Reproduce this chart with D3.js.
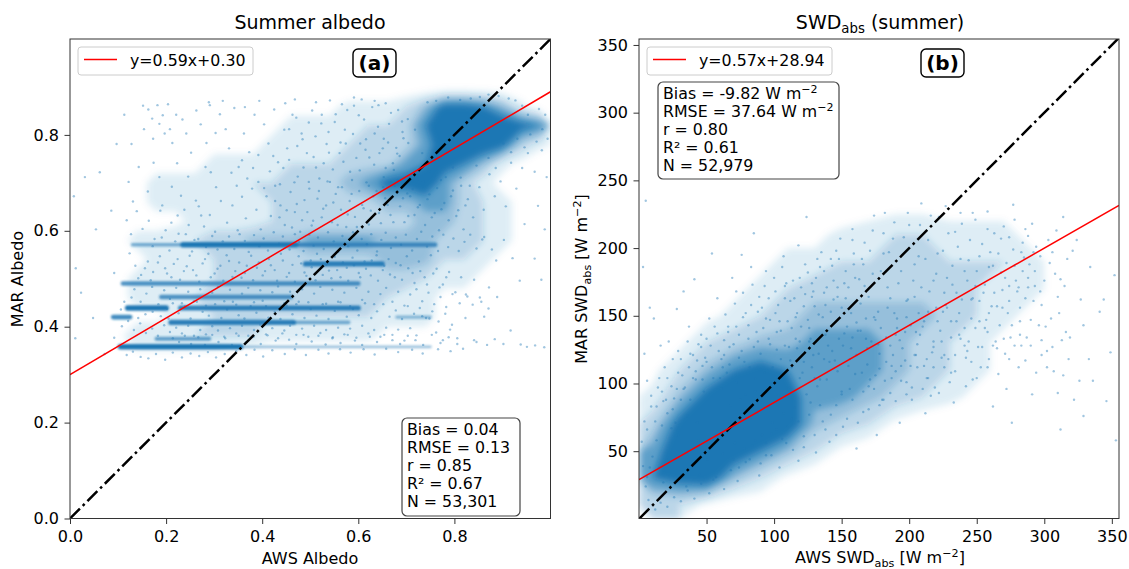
<!DOCTYPE html>
<html><head><meta charset="utf-8">
<script src="https://cdn.jsdelivr.net/npm/d3@7/dist/d3.min.js"></script>
<style>
html,body{margin:0;padding:0;background:#fff}
svg{display:block}
text{font-family:"DejaVu Sans",sans-serif;fill:#000}
</style></head><body>
<svg id="c" width="1129" height="569">
<defs><filter id="soft" x="-5%" y="-5%" width="110%" height="110%"><feGaussianBlur stdDeviation="3.5"/></filter>
<filter id="softB" x="-5%" y="-200%" width="110%" height="500%"><feGaussianBlur stdDeviation="0.9"/></filter></defs>
</svg>
<script>
// The originals hold ~53,000 points each: they cannot be read one by one. The clouds are shown as
// estimated coverage grids (digit 0-9 per cell, read by eye), estimated streaks, and a hand-read sample of points.
const aGridRows = [
"0000000000000000000000000","0000000000000000000000000","0000000000000000000000000",
"0001110111111122235887520","0011111111122223347999987","0011111111222233346999842",
"0011111222233344467875210","0011222233344456889642100","0011222222333344556643210",
"0011112222333333445543210","0012233445556666555443210","0011222333334444555332100",
"0012222333344444443221100","0012233444444443322111000","0111122333333333222110000",
"0013333333222222111111100","0001111100000000000000000","0000000000000000000000000",
"0000000000000000000000000","0000000000000000000000000","0000000000000000000000000",
"0000000000000000000000000","0000000000000000000000000","0000000000000000000000000","0000000000000000000000000"];
const bGridRows = [
"000000000000000000","000000000000000000","000000000000000000","000000000000000000","000000000000000000","000000000000000000",
"000000001111110000","000001122332221000","000112233333332100","001123444443322100","001234555554321000","013455666543210000",
"135787666543210000","258998665432100000","489999543100000000","699975310000000000","789531000000000000","331000000000000000"];
const bandY  =[.571,.571,.571,.531,.490,.462,.439,.439,.420,.420,.409,.409,.375,.358,.358];
const bandX0 =[.130,.235,.470,.490,.110,.190,.120,.230,.090,.680,.210,.465,.180,.105,.355];
const bandX1 =[.300,.470,.760,.650,.600,.460,.200,.600,.125,.750,.465,.580,.290,.355,.750];
const bandLvl=[.45,1,.7,.9,.7,.7,1,.9,.8,.3,.9,.45,.55,1,.25];
// per-mille x,y pairs (albedo)
const aPairs=[
8,672,31,712,62,722,12,522,54,603,23,471,11,376,48,418,92,512,86,642,97,781,
113,842,128,781,152,861,154,812,163,853,171,834,173,792,182,862,186,823,193,841,197,803,204,864,208,812,213,783,221,842,223,741,234,832,242,803,246,713,252,763,
122,702,143,733,131,661,162,682,174,742,186,712,192,653,212,692,224,632,231,673,263,851,272,822,284,783,291,862,293,722,304,691,262,663,273,632,282,733,303,804,
312,843,324,812,331,772,342,856,351,733,362,803,373,764,384,842,392,702,404,822,413,782,425,853,433,743,446,811,452,772,463,842,474,713,482,803,493,762,504,851,
512,732,523,824,534,781,541,702,553,843,561,762,572,811,583,723,591,861,604,782,612,832,623,753,634,803,642,862,651,772,664,823,672,741,683,852,694,793,703,833,
118,622,127,593,139,641,151,604,164,621,176,583,188,642,199,601,211,617,226,594,238,644,247,612,259,581,268,651,279,609,291,633,302,598,314,662,327,617,338,653,
349,601,358,671,366,626,379,688,388,644,397,603,409,672,418,631,427,694,438,653,447,612,459,681,468,639,479,598,488,664,497,702,506,621,518,683,527,646,536,703,
548,659,557,612,566,691,578,634,586,677,597,608,608,654,617,701,626,642,638,683,647,616,656,668,667,633,676,694,687,651,696,618,708,672,717,633,728,654,739,612,
748,676,759,637,768,601,779,658,788,622,797,684,808,643,819,603,828,666,839,628,852,691,861,644,873,718,884,672,896,703,907,651,918,742,929,688,941,731,953,762,
967,723,982,768,992,712,974,652,988,603,946,614,903,581,921,543,967,542,858,582,887,538,936,496,981,498,
124,553,136,527,148,508,162,536,173,514,187,547,198,522,211,503,224,541,237,516,249,548,263,507,276,532,288,552,301,511,313,527,326,549,338,504,352,534,364,512,
377,548,389,523,401,507,414,541,426,518,439,552,451,504,463,529,476,547,488,513,501,538,514,552,526,508,539,517,551,546,563,503,576,523,588,544,601,512,613,536,
626,507,638,549,651,518,663,541,676,503,688,528,701,547,713,512,726,536,738,503,751,549,763,521,776,488,789,514,802,472,814,503,827,463,841,498,856,452,872,482,
134,478,147,452,159,469,171,483,184,447,196,476,208,458,221,481,233,449,246,473,258,453,271,478,283,444,296,471,308,483,321,453,333,477,346,446,358,469,371,481,
383,451,396,476,408,443,421,472,433,484,446,449,458,473,471,447,483,478,496,451,508,469,521,483,533,448,546,477,558,452,571,471,583,443,596,481,608,456,621,473,
633,447,646,468,658,481,671,452,683,473,696,444,708,467,721,478,733,453,746,471,758,447,771,462,783,441,796,468,811,449,824,467,838,446,853,461,871,438,889,462,
108,401,121,412,133,393,146,407,158,387,171,396,183,381,196,403,208,389,221,398,233,386,246,402,258,381,271,393,283,384,296,401,308,392,321,379,333,397,346,386,
358,402,371,381,383,393,396,404,408,384,421,397,433,376,446,392,458,402,471,383,483,396,496,379,508,402,521,387,533,393,546,376,558,398,571,384,583,396,596,377,
608,402,621,386,633,393,646,379,658,398,671,383,683,394,696,371,708,397,721,382,733,422,748,417,762,388,776,372,791,394,806,376,823,418,841,372,862,421,884,374,
917,392,938,363,951,358,968,361,987,357,902,364,868,362,846,368,118,341,131,348,147,337,163,334,179,343,198,331,214,346,233,336,251,344,269,339,
287,347,304,336,322,343,346,349,367,341,384,352,402,338,421,351,447,343,468,353,491,341,517,352,538,344,562,353,584,346,611,353,634,342,658,354,683,347,712,352,
734,344,766,353,792,349,818,354,106,436,113,452,128,461,142,418,157,426,172,431,189,422,205,417,92,377,72,343,
704,783,718,811,733,762,686,756,657,731,668,702,702,678,725,702,748,724,772,706,797,732,813,711,832,694,846,736,871,752,886,731,902,782,918,764,
931,792,946,774,958,801,971,786,983,812,994,792,989,842,976,854,953,842,941,861,927,872,913,876,892,881,871,884,853,879,834,876,812,873,787,878,762,871,744,868,
607,874,634,871,657,866,591,878,566,864,541,872,512,868,468,874,448,866,394,871,364,858,318,871,289,868,
// second reading: the mid-density cloud
336,721,347,694,358,747,369,709,381,731,392,758,404,689,416,724,423,756,437,697,444,731,456,748,467,701,473,777,486,732,498,688,507,754,519,709,528,741,539,763,
547,728,558,691,569,744,574,782,587,706,596,752,603,726,615,769,622,694,633,738,644,762,653,712,662,784,674,727,681,761,692,806,
427,662,436,628,451,643,462,607,472,656,483,622,494,639,503,611,515,667,524,628,533,653,545,618,553,677,564,644,575,608,582,662,593,629,602,683,611,647,622,613,
631,672,643,637,652,691,661,654,673,618,682,706,693,668,704,631,713,687,724,649,735,703,744,666,753,628,764,689,773,645,782,712,793,672,804,631,814,694,823,653,
331,588,342,562,353,593,364,579,372,556,383,591,394,568,403,584,412,559,424,597,435,573,443,588,457,561,468,593,477,577,486,558,498,592,507,569,516,586,528,562,
537,597,549,578,558,556,567,589,579,568,589,597,598,559,607,583,618,572,627,593,639,557,648,581,657,596,668,564,678,586,689,571,699,592,712,559,722,583,731,598,
743,567,754,588,766,558,777,592,787,566,798,584,809,558,821,577,833,592,846,563,862,587,878,561,
172,568,191,586,207,559,219,578,241,593,254,557,267,583,283,566,296,589,307,561,318,578,
142,501,156,522,168,497,183,534,202,511,216,531,229,498,243,526,256,518,269,494,281,541,293,503,307,521,319,496,331,537,344,516,357,502,368,527,381,497,393,534,
406,516,418,528,431,496,443,538,456,512,468,494,481,532,492,506,503,524,511,497,522,541,533,529,544,501,556,518,568,534,579,496,591,528,604,503,616,521,628,538,
641,496,654,527,666,509,678,533,691,498,704,522,717,491,729,516,743,488,756,511,769,482,783,503,
202,437,214,449,226,428,239,443,251,417,264,452,276,431,289,423,302,447,315,418,327,436,339,452,351,424,363,417,376,443,388,429,401,454,413,419,426,431,438,416,
451,444,463,426,476,452,488,418,501,437,513,423,526,447,538,416,551,433,563,451,576,421,589,437,601,424,614,449,627,418,639,432,652,447,665,421,678,434,691,416,
703,443,716,427,728,439,741,418,754,432,767,411,781,427,795,404,
214,376,227,368,239,381,252,364,267,378,281,362,296,383,309,368,323,376,337,362,351,381,366,367,382,379,397,364,411,382,428,371,442,386,456,373,471,364,486,383,
503,369,517,381,532,363,547,378,563,366,578,383,593,371,608,362,624,379,639,368,654,383,671,372,687,364,703,381,719,372,735,362,753,383,771,366,788,378,806,364,
456,812,471,836,484,791,497,826,511,797,524,842,538,806,551,827,563,784,577,852,589,802,601,841,616,791,629,858,641,817,653,792,668,846,679,773,691,828,
];
// x,y pairs in W m-2 (absorbed shortwave)
const bPairs=[
5,235,3,186,8,156,4,122,11,148,16,128,6,102,22,131,28,155,14,97,9,83,19,112,24,98,31,118,37,142,41,177,33,168,44,129,52,148,47,113,58,163,63,132,69,178,54,196,
72,142,78,116,83,158,76,195,88,131,93,172,97,147,85,211,102,125,108,163,113,141,106,186,118,202,122,157,127,133,131,178,136,149,124,223,142,192,147,164,152,137,158,214,
163,177,168,148,171,198,177,129,182,226,186,163,191,141,196,208,203,176,207,152,212,192,218,131,222,223,226,167,231,146,236,201,241,183,247,226,252,161,258,138,263,211,
268,182,273,152,277,232,283,197,288,171,291,218,296,143,303,206,308,181,314,223,321,198,327,162,334,186,341,153,352,180,349,123,333,118,316,138,298,121,281,112,
272,96,259,118,247,103,241,128,233,86,226,112,219,97,212,78,205,121,198,92,193,71,187,113,181,88,176,62,171,103,166,79,161,52,156,96,151,68,146,84,141,57,
136,72,131,49,127,86,122,61,118,43,113,74,109,56,104,38,98,63,94,47,89,32,84,54,79,42,73,28,68,36,63,22,57,31,52,19,46,26,41,15,36,21,31,13,26,16,21,9,16,12,
12,7,7,14,5,24,3,39,2,57,4,72,6,66,9,91,13,83,17,94,21,104,26,89,29,108,34,97,38,122,42,109,46,136,49,119,53,128,56,142,61,118,64,151,67,127,71,159,74,136,
77,167,81,143,84,173,87,138,91,156,94,183,97,129,101,168,104,146,107,194,111,127,114,176,117,152,119,131,123,188,126,141,129,168,133,122,135,197,138,158,141,116,
144,176,148,133,149,207,153,163,156,118,159,188,162,139,165,108,167,172,169,126,173,213,175,147,178,111,179,183,183,134,185,197,188,121,189,152,192,174,194,102,
197,138,199,162,201,113,204,188,206,129,208,217,211,146,213,104,215,168,217,123,220,181,223,139,225,198,228,156,229,118,232,173,234,212,237,136,239,162,242,119,
244,191,246,148,249,172,251,127,254,203,256,141,259,186,261,157,264,131,266,196,269,169,271,122,274,208,276,143,279,176,282,156,284,204,287,134,289,188,292,161,
294,201,297,168,301,142,304,189,307,109,311,152,315,172,319,134,324,206,329,143,336,102,344,162,353,58,346,87,329,76,312,66,291,92,276,71,262,83,
38,88,43,71,48,94,44,58,36,76,29,62,25,81,33,49,39,41,45,33,51,44,57,62,55,29,62,48,67,72,71,56,75,88,78,67,82,77,86,94,91,62,95,83,99,71,103,91,107,78,111,97,
115,82,119,104,124,92,128,112,132,98,137,118,139,103,143,124,147,109,151,128,155,113,158,134,161,121,164,139,169,114,172,131,175,106,179,141,183,116,186,128,
190,109,193,132,197,117,201,143,204,121,208,136,211,113,214,153,218,127,221,146,224,119,227,158,231,134,234,121,237,152,241,141,244,131,247,163,252,146,256,173,
259,152,263,167,267,143,271,178,274,161,278,187,281,171,285,193,288,178,292,197,286,163,277,199,268,207,258,214,249,221,238,226,227,231,216,224,209,233,199,226,
189,219,181,211,174,224,167,204,159,196,153,183,147,171,143,187,137,167,132,192,128,174,123,166,119,178,116,149,112,161,108,172,105,139,101,152,96,163,92,141,
88,153,85,127,81,133,77,149,74,119,70,129,66,138,62,112,59,124,55,104,50,116,46,127,42,103,37,112,33,96,29,124,25,118,21,78,17,69,13,58,10,46,8,38,6,31,
// second reading: the mid-density cloud
112,117,116,133,121,108,125,147,129,121,134,103,138,136,142,153,145,117,150,94,154,142,157,126,160,107,164,159,168,133,170,98,174,149,178,122,180,88,184,156,
187,104,191,148,195,126,198,161,202,97,205,138,209,171,213,118,216,91,220,156,224,131,228,178,231,108,235,146,238,192,243,124,246,162,250,183,253,112,257,147,
260,197,265,126,269,156,272,189,275,134,280,168,283,128,286,214,290,147,293,183,298,158,302,124,306,197,310,164,313,132,
128,164,133,151,137,183,140,128,146,198,150,156,155,171,158,206,161,145,166,188,170,164,173,181,177,153,181,196,184,171,188,207,190,136,194,183,198,149,200,217,
204,164,207,194,210,142,214,206,218,176,221,196,225,153,229,211,232,187,235,167,239,218,243,176,245,206,249,141,252,194,255,167,258,227,262,187,265,157,270,216,
274,172,278,221,282,146,284,183,288,209,293,172,297,194,300,176,305,148,309,213,312,177,317,192,
61,96,65,108,68,84,72,101,76,124,79,92,82,112,86,104,90,122,93,108,96,133,99,112,102,138,105,118,108,128,110,146,113,112,117,126,120,142,122,116,126,131,130,104,
66,142,72,168,79,152,83,186,89,164,94,148,100,178,103,158,109,174,115,163,120,171,125,182,130,157,134,186,139,171,144,162,148,192,152,174,157,152,160,178,165,192,
15,38,18,27,22,44,27,71,31,88,35,24,40,104,43,117,47,103,50,133,54,112,58,137,60,104,63,121,67,114,20,88,24,67,28,96,32,106,36,131,40,121,12,72,15,104,18,87,
70,44,74,38,78,52,82,44,86,58,90,41,94,56,98,47,102,66,106,59,110,68,114,51,118,72,122,53,126,77,130,62,134,84,138,66,142,77,146,62,150,92,154,74,158,88,162,71,
166,94,170,81,174,96,178,84,182,102,186,93,190,87,194,113,198,101,202,88,206,112,210,96,214,104,218,112,222,93,226,121,230,101,234,109,238,133,242,98,246,116,
250,104,254,127,258,112,262,128,266,107,270,133,274,118,278,128,282,136,286,117,290,128,294,108,298,132,302,112,306,127,310,93,314,106,318,118,322,88,326,102,
];
const aFit=[.59,.30]; const bFit=[.57,28.94];
const xTicksA=[0,.2,.4,.6,.8], yTicksA=[0,.2,.4,.6,.8];
const xTicksB=[50,100,150,200,250,300,350], yTicksB=[50,100,150,200,250,300,350];

const svg=d3.select("#c");
const blue="#1f77b4";
const layers=[[1.5,.13],[3,.2],[4.5,.25],[5.5,.45],[7,1]];

function panel(o){
  const x=d3.scaleLinear().domain(o.xd).range(o.xr), y=d3.scaleLinear().domain(o.yd).range(o.yr);
  const g=svg.append("g");
  const cid="clip"+o.id;
  svg.append("clipPath").attr("id",cid).append("rect").attr("x",o.xr[0]).attr("y",o.yr[1]).attr("width",o.xr[1]-o.xr[0]).attr("height",o.yr[0]-o.yr[1]);
  const plot=g.append("g").attr("clip-path",`url(#${cid})`);
  const rows=o.grid, ny=rows.length, nx=rows[0].length;
  const vals=[]; rows.forEach(r=>{for(const c of r) vals.push(+c)});
  const gx=d3.scaleLinear().domain([0,nx]).range(o.gridX), gy=d3.scaleLinear().domain([0,ny]).range(o.gridY);
  const path=d3.geoPath(d3.geoTransform({point(a,b){this.stream.point(x(gx(a)),y(gy(b)))}}));
  const cont=d3.contours().size([nx,ny]).thresholds(layers.map(l=>l[0]))(vals);
  plot.append("g").attr("filter","url(#soft)").selectAll("path").data(cont).join("path").attr("d",path).attr("fill",blue).attr("fill-opacity",(d,i)=>layers[i][1]);
  if(o.bands){
    const w=d3.scaleLinear().domain([0,1]).range([2,5.5]);
    plot.append("g").attr("filter","url(#softB)").selectAll("line").data(bandY).join("line")
      .attr("x1",(d,i)=>x(bandX0[i])).attr("x2",(d,i)=>x(bandX1[i])).attr("y1",d=>y(d)).attr("y2",d=>y(d))
      .attr("stroke",blue).attr("stroke-linecap","round").attr("stroke-width",(d,i)=>w(bandLvl[i])).attr("stroke-opacity",(d,i)=>.25+.75*bandLvl[i]);
  }
  const pts=[]; for(let i=0;i<o.pairs.length;i+=2) pts.push([o.pairs[i]/o.div,o.pairs[i+1]/o.div]);
  plot.append("g").selectAll("circle").data(pts).join("circle").attr("cx",d=>x(d[0])).attr("cy",d=>y(d[1])).attr("r",1.2).attr("fill",blue).attr("fill-opacity",.42);
  const lo=Math.max(o.xd[0],o.yd[0]), hi=Math.min(o.xd[1],o.yd[1])+5;
  plot.append("line").attr("x1",x(lo)).attr("y1",y(lo)).attr("x2",x(hi)).attr("y2",y(hi))
    .attr("stroke","#000").attr("stroke-width",2.5).attr("stroke-dasharray","14 4 2.6 4");
  plot.append("line").attr("x1",x(o.xd[0])).attr("y1",y(o.fit[0]*o.xd[0]+o.fit[1])).attr("x2",x(o.xd[1])).attr("y2",y(o.fit[0]*o.xd[1]+o.fit[1]))
    .attr("stroke","#f00").attr("stroke-width",1.5);
  const ax=g.append("g").attr("transform",`translate(0,${o.yr[0]})`).call(d3.axisBottom(x).tickValues(o.xt).tickFormat(o.fmt).tickSize(5.5).tickPadding(7));
  const ay=g.append("g").attr("transform",`translate(${o.xr[0]},0)`).call(d3.axisLeft(y).tickValues(o.yt).tickFormat(o.fmt).tickSize(5.5).tickPadding(5.5));
  [ax,ay].forEach(s=>{s.select(".domain").remove();s.selectAll("line").attr("stroke","#333").attr("stroke-width",1);
    s.selectAll("text").style("font-family",'"DejaVu Sans"').style("font-size","16px").attr("fill","#000")});
  g.append("rect").attr("x",o.xr[0]).attr("y",o.yr[1]).attr("width",o.xr[1]-o.xr[0]).attr("height",o.yr[0]-o.yr[1]).attr("fill","none").attr("stroke","#333").attr("stroke-width",1);
  const lx=o.xr[0]+8;
  g.append("rect").attr("x",lx).attr("y",47).attr("width",o.legW).attr("height",28).attr("rx",3).attr("fill","#fff").attr("fill-opacity",.8).attr("stroke","#ccc").attr("stroke-width",1);
  g.append("line").attr("x1",lx+6).attr("x2",lx+39).attr("y1",59.5).attr("y2",59.5).attr("stroke","#f00").attr("stroke-width",1.5);
  g.append("text").attr("x",lx+52).attr("y",65.5).style("font-size","15.8px").text(o.legend);
  g.append("rect").attr("x",o.tag[0]).attr("y",49).attr("width",43).attr("height",28).attr("rx",5).attr("fill","#fff").attr("stroke","#000").attr("stroke-width",1.4);
  g.append("text").attr("x",o.tag[0]+21.5).attr("y",69.5).attr("text-anchor","middle").style("font-size","20px").style("font-weight","bold").text(o.tagText);
  const b=o.box;
  g.append("rect").attr("x",b[0]).attr("y",b[1]).attr("width",b[2]).attr("height",b[3]).attr("rx",5).attr("fill","#fff").attr("fill-opacity",.85).attr("stroke","#444").attr("stroke-width",1.2);
  o.stats.forEach((l,i)=>{
    const t=g.append("text").attr("x",b[0]+5).attr("y",b[1]+17+i*18).style("font-size","15.8px");
    t.text(l[0]+(l[1]?" W m":""));
    if(l[1]) t.append("tspan").attr("dy",-6).style("font-size","11px").text("−2");
  });
  return g;
}
function rich(sel,parts){
  let carry=0;
  parts.forEach(p=>{
    const s=sel.append("tspan").text(p[0]);
    const shift=p[1]=="sub"?4:p[1]=="sup"?-6:0;
    if(shift-carry) s.attr("dy",shift-carry);
    if(p[1]) s.style("font-size","0.7em");
    carry=shift;
  });
}

panel({id:"a",xd:[0,1],yd:[0,1],xr:[70,550.5],yr:[518.5,39],xt:xTicksA,yt:yTicksA,fmt:d3.format(".1f"),grid:aGridRows,gridX:[0,1],gridY:[1,0],
  pairs:aPairs,div:1000,bands:true,fit:aFit,legend:"y=0.59x+0.30",legW:175,tag:[353,0],tagText:"(a)",box:[402,418,118,98],
  stats:[["Bias = 0.04"],["RMSE = 0.13"],["r = 0.85"],["R² = 0.67"],["N = 53,301"]]});
panel({id:"b",xd:[0,355.3],yd:[.3,354.4],xr:[639,1119],yr:[518.5,39],xt:xTicksB,yt:yTicksB,fmt:d3.format("d"),grid:bGridRows,gridX:[0,360],gridY:[360,0],
  pairs:bPairs,div:1,bands:false,fit:bFit,legend:"y=0.57x+28.94",legW:185,tag:[921,0],tagText:"(b)",box:[658,82,181,97],
  stats:[["Bias = -9.82",1],["RMSE = 37.64",1],["r = 0.80"],["R² = 0.61"],["N = 52,979"]]});

function label(x,y,size,parts,rot){
  const t=svg.append("text").attr("text-anchor","middle").style("font-size",size+"px");
  if(rot) t.attr("transform",`translate(${x},${y}) rotate(-90)`); else t.attr("x",x).attr("y",y);
  rich(t,parts);
}
label(310,29,19,[["Summer albedo"]]);
label(880,29,19,[["SWD"],["abs","sub"],[" (summer)"]]);
label(310,564,16,[["AWS Albedo"]]);
label(23,279,16,[["MAR Albedo"]],true);
label(880,563,16,[["AWS SWD"],["abs","sub"],[" [W m"],["−2","sup"],["]"]]);
label(587,279,16,[["MAR SWD"],["abs","sub"],[" [W m"],["−2","sup"],["]"]],true);
</script></body></html>
